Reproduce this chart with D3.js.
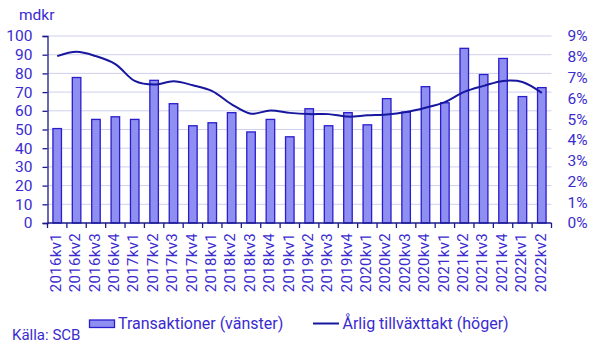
<!DOCTYPE html>
<html>
<head>
<meta charset="utf-8">
<script src="https://cdn.jsdelivr.net/npm/d3@7"></script>
<style>
  html, body { margin: 0; padding: 0; background: #fff; }
  svg { display: block; font-family: Roboto, "Liberation Sans", Arial, sans-serif; }
</style>
</head>
<body>
<svg id="chart" width="592" height="350"></svg>
<script>
const categories = ["2016kv1","2016kv2","2016kv3","2016kv4","2017kv1","2017kv2","2017kv3","2017kv4",
  "2018kv1","2018kv2","2018kv3","2018kv4","2019kv1","2019kv2","2019kv3","2019kv4",
  "2020kv1","2020kv2","2020kv3","2020kv4","2021kv1","2021kv2","2021kv3","2021kv4","2022kv1","2022kv2"];
const transaktioner = [50.5,77.8,55.4,56.8,55.4,76.3,63.8,52.0,53.6,59.0,48.7,55.4,46.1,
  61.1,52.0,59.0,52.5,66.5,59.3,72.9,64.3,93.4,79.4,88.0,67.6,72.4];
const tillvaxt = [8.03,8.24,8.03,7.65,6.84,6.66,6.82,6.63,6.35,5.71,5.26,5.42,5.30,
  5.24,5.24,5.12,5.18,5.22,5.34,5.55,5.82,6.31,6.60,6.84,6.79,6.26];
const leftTicks = [0,10,20,30,40,50,60,70,80,90,100];
const rightTicks = [0,1,2,3,4,5,6,7,8,9];

const textColor = "#3a2bd0";
const barFill = "#8f8ff2";
const barStroke = "#2a1dcc";
const lineColor = "#16169e";
const gridColor = "#cfcfee";
const axisColor = "#1a1a8c";

const svg = d3.select("#chart");
const m = {left: 47.5, right: 551.5, top: 36, bottom: 223};

const x = d3.scaleBand().domain(categories).range([m.left, m.right]).paddingInner(0.56).paddingOuter(0.28);
const xb = d3.scaleBand().domain(categories).range([m.left, m.right]);
const yL = d3.scaleLinear().domain([0,100]).range([m.bottom, m.top]);
const yR = d3.scaleLinear().domain([0,9]).range([m.bottom, m.top]);

// gridlines
svg.append("g").selectAll("line").data(leftTicks.filter(d => d > 0)).join("line")
  .attr("x1", m.left).attr("x2", m.right)
  .attr("y1", d => yL(d)).attr("y2", d => yL(d))
  .attr("stroke", gridColor).attr("stroke-width", 1);

// bars
svg.append("g").selectAll("rect").data(transaktioner).join("rect")
  .attr("x", (d,i) => x(categories[i]))
  .attr("width", x.bandwidth())
  .attr("y", d => yL(d))
  .attr("height", d => yL(0) - yL(d))
  .attr("fill", barFill).attr("stroke", barStroke).attr("stroke-width", 1.3);

// line
const line = d3.line()
  .x((d,i) => xb(categories[i]) + xb.bandwidth()/2)
  .y(d => yR(d))
  .curve(d3.curveCatmullRom.alpha(0.5));
svg.append("path").datum(tillvaxt)
  .attr("d", line).attr("fill", "none")
  .attr("stroke", lineColor).attr("stroke-width", 2);

// left axis
const gL = svg.append("g").attr("transform", `translate(${m.left},0)`)
  .call(d3.axisLeft(yL).tickValues(leftTicks).tickSize(5).tickPadding(10));
gL.select(".domain").attr("stroke", axisColor).attr("stroke-width", 1.3);
gL.selectAll(".tick line").attr("stroke", axisColor).attr("stroke-width", 1.3);
gL.selectAll(".tick text").attr("fill", textColor).style("font-size", "15.5px")
  .style("font-family", "Roboto, 'Liberation Sans', Arial, sans-serif");

// right axis labels
const gR = svg.append("g").attr("transform", `translate(${m.right},0)`)
  .call(d3.axisRight(yR).tickValues(rightTicks).tickSize(0).tickFormat(d => d + "%"));
gR.select(".domain").remove();
gR.selectAll(".tick text").attr("fill", textColor).attr("text-anchor", "end").attr("x", 36)
  .style("font-size", "15.5px").style("font-family", "Roboto, 'Liberation Sans', Arial, sans-serif");

// bottom axis
const gB = svg.append("g").attr("transform", `translate(0,${m.bottom})`);
gB.append("line").attr("x1", m.left).attr("x2", m.right).attr("y1", 0).attr("y2", 0)
  .attr("stroke", axisColor).attr("stroke-width", 1.3);
const boundaries = categories.map(c => xb(c)).concat([m.right]);
gB.selectAll("line.tk").data(boundaries).join("line").attr("class", "tk")
  .attr("x1", d => d).attr("x2", d => d).attr("y1", 0).attr("y2", 5)
  .attr("stroke", axisColor).attr("stroke-width", 1.3);
gB.selectAll("text").data(categories).join("text")
  .attr("transform", d => `translate(${xb(d) + xb.bandwidth()/2 - 1.5},10) rotate(-90)`)
  .attr("text-anchor", "end").attr("dy", "0.35em")
  .attr("fill", textColor).style("font-size", "15px").style("letter-spacing", "0.3px")
  .text(d => d);

// unit label
svg.append("text").attr("x", 19).attr("y", 20).attr("fill", textColor)
  .style("font-size", "15.5px").text("mdkr");

// legend
const lg = svg.append("g");
lg.append("rect").attr("x", 89.5).attr("y", 320).attr("width", 25).attr("height", 7.5)
  .attr("fill", barFill).attr("stroke", barStroke).attr("stroke-width", 1.3);
lg.append("text").attr("x", 118).attr("y", 328.5).attr("fill", textColor)
  .style("font-size", "16px").text("Transaktioner (vänster)");
lg.append("line").attr("x1", 313).attr("x2", 339).attr("y1", 323.5).attr("y2", 323.5)
  .attr("stroke", lineColor).attr("stroke-width", 2);
lg.append("text").attr("x", 342.5).attr("y", 328.5).attr("fill", textColor)
  .style("font-size", "16px").text("Årlig tillväxttakt (höger)");
svg.append("text").attr("x", 12).attr("y", 340).attr("fill", textColor)
  .style("font-size", "15px").text("Källa: SCB");
</script>
</body>
</html>
